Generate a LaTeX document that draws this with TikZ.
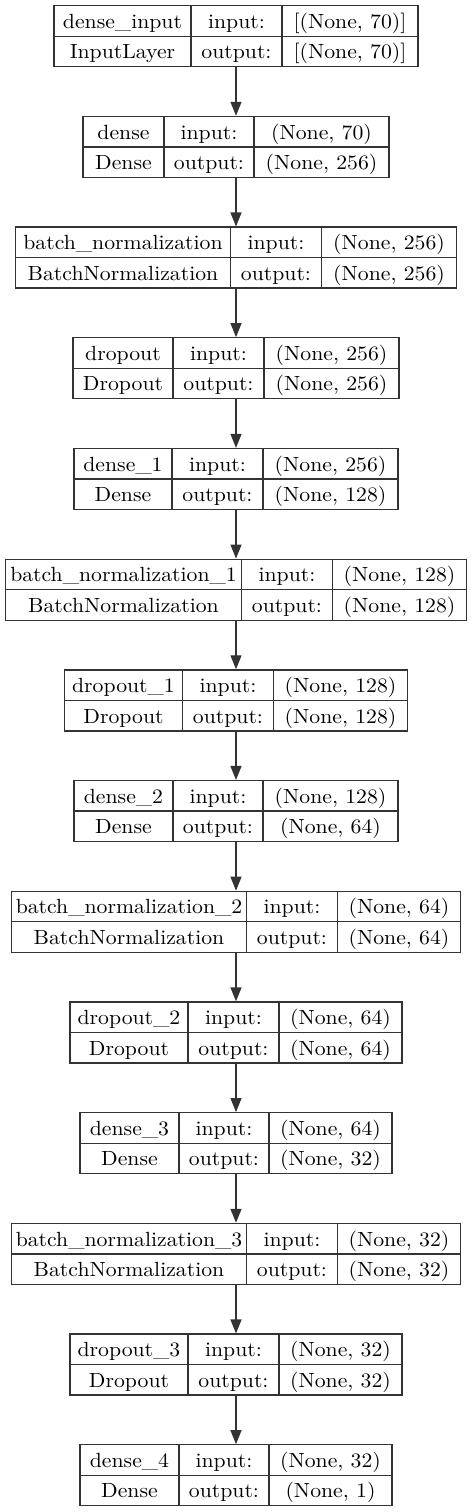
\documentclass[tikz,border=0pt]{standalone}
\usepackage{fontspec}
\usepackage{tikz}
\usetikzlibrary{arrows.meta,positioning,matrix}
\newfontfamily\cellfont{lmroman10-regular}[Extension=.otf, FakeStretch=1.06]
\tikzset{
  cellbox/.style={draw=black!80, line width=1.3pt, outer sep=0pt, inner sep=2pt, minimum height=30.5pt, text height=14.7pt, text depth=0pt, font=\cellfont\fontsize{20.5}{24}\selectfont},
  layerbox/.style={matrix of nodes, inner sep=0pt, outer sep=0pt, column sep=-1.3pt, row sep=-1.3pt, nodes={cellbox}},
  cols/.style n args={3}{column 1/.style={nodes={minimum width=#1}}, column 2/.style={nodes={minimum width=#2}}, column 3/.style={nodes={minimum width=#3}}},
  arc/.style={-{Triangle[length=14pt, width=11pt]}, line width=1.3pt, draw=black!80}
}

\begin{document}
\begin{tikzpicture}[x=1pt, y=1pt, node distance=48.4pt]
  \useasboundingbox (0,0) rectangle (472,-1512);
  \matrix[layerbox, cols={137pt}{91pt}{136pt}, anchor=north] (dinput) at (236,-5.05) {
    dense\_input & input: & {[(None, 70)]} \\
    InputLayer & output: & {[(None, 70)]} \\
  };
  \matrix[layerbox, cols={81pt}{90pt}{135pt}, below=of dinput] (dense) {
    dense & input: & (None, 70) \\
    Dense & output: & (None, 256) \\
  };
  \matrix[layerbox, cols={215pt}{91pt}{135pt}, below=of dense] (bnorm) {
    batch\_normalization & input: & (None, 256) \\
    BatchNormalization & output: & (None, 256) \\
  };
  \matrix[layerbox, cols={100pt}{91pt}{135pt}, below=of bnorm] (drop) {
    dropout & input: & (None, 256) \\
    Dropout & output: & (None, 256) \\
  };
  \matrix[layerbox, cols={98pt}{91pt}{135pt}, below=of drop] (dense1) {
    dense\_1 & input: & (None, 256) \\
    Dense & output: & (None, 128) \\
  };
  \matrix[layerbox, cols={236pt}{91pt}{134pt}, below=of dense1] (bnorm1) {
    batch\_normalization\_1 & input: & (None, 128) \\
    BatchNormalization & output: & (None, 128) \\
  };
  \matrix[layerbox, cols={118pt}{91pt}{134pt}, below=of bnorm1] (drop1) {
    dropout\_1 & input: & (None, 128) \\
    Dropout & output: & (None, 128) \\
  };
  \matrix[layerbox, cols={99pt}{90pt}{135pt}, below=of drop1] (dense2) {
    dense\_2 & input: & (None, 128) \\
    Dense & output: & (None, 64) \\
  };
  \matrix[layerbox, cols={235pt}{91pt}{123pt}, below=of dense2] (bnorm2) {
    batch\_normalization\_2 & input: & (None, 64) \\
    BatchNormalization & output: & (None, 64) \\
  };
  \matrix[layerbox, cols={118pt}{91pt}{123pt}, below=of bnorm2] (drop2) {
    dropout\_2 & input: & (None, 64) \\
    Dropout & output: & (None, 64) \\
  };
  \matrix[layerbox, cols={99pt}{90pt}{123pt}, below=of drop2] (dense3) {
    dense\_3 & input: & (None, 64) \\
    Dense & output: & (None, 32) \\
  };
  \matrix[layerbox, cols={235pt}{91pt}{123pt}, below=of dense3] (bnorm3) {
    batch\_normalization\_3 & input: & (None, 32) \\
    BatchNormalization & output: & (None, 32) \\
  };
  \matrix[layerbox, cols={118pt}{91pt}{123pt}, below=of bnorm3] (drop3) {
    dropout\_3 & input: & (None, 32) \\
    Dropout & output: & (None, 32) \\
  };
  \matrix[layerbox, cols={99pt}{90pt}{123pt}, below=of drop3] (dense4) {
    dense\_4 & input: & (None, 32) \\
    Dense & output: & (None, 1) \\
  };

  \draw[arc] (dinput) -- (dense);
  \draw[arc] (dense) -- (bnorm);
  \draw[arc] (bnorm) -- (drop);
  \draw[arc] (drop) -- (dense1);
  \draw[arc] (dense1) -- (bnorm1);
  \draw[arc] (bnorm1) -- (drop1);
  \draw[arc] (drop1) -- (dense2);
  \draw[arc] (dense2) -- (bnorm2);
  \draw[arc] (bnorm2) -- (drop2);
  \draw[arc] (drop2) -- (dense3);
  \draw[arc] (dense3) -- (bnorm3);
  \draw[arc] (bnorm3) -- (drop3);
  \draw[arc] (drop3) -- (dense4);
\end{tikzpicture}
\end{document}
